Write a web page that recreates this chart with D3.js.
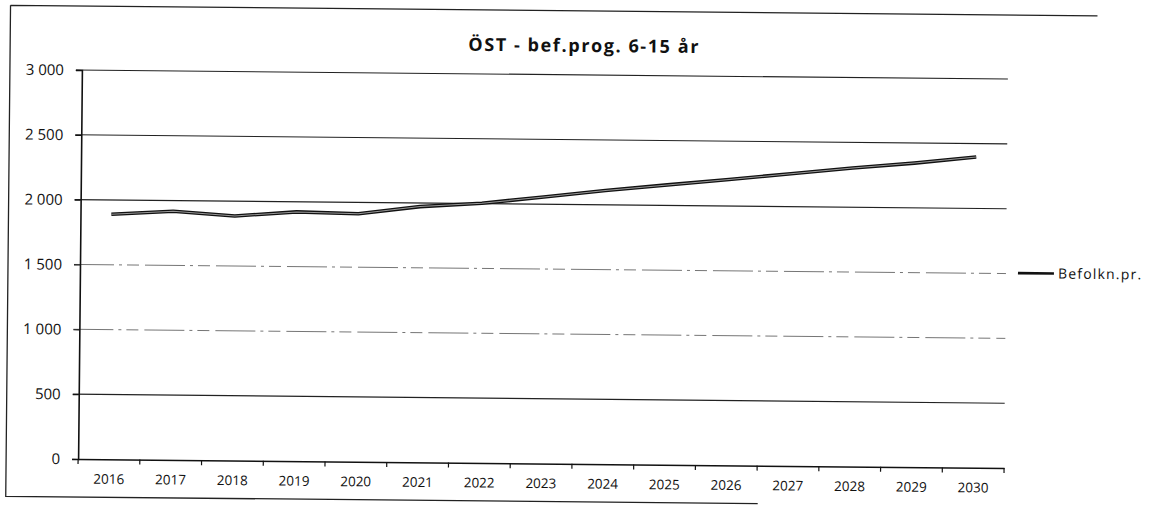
<!DOCTYPE html>
<html>
<head>
<meta charset="utf-8">
<script src="https://cdn.jsdelivr.net/npm/d3@7"></script>
<style>
  body { margin: 0; background: #fff; }
  svg { display: block; }
  text { font-family: "Open Sans", "DejaVu Sans", sans-serif; fill: #111; }
</style>
</head>
<body>
<div id="chart"></div>
<script>
// DATA
var years = ["2016", "2017", "2018", "2019", "2020", "2021", "2022", "2023",
             "2024", "2025", "2026", "2027", "2028", "2029", "2030"];
var befolkn = [1890, 1918, 1886, 1922, 1912, 1972, 2003, 2055,
               2110, 2158, 2205, 2253, 2302, 2345, 2396];
var yTicks = [0, 500, 1000, 1500, 2000, 2500, 3000];
var faintTicks = [1000, 1500];
var title = "ÖST - bef.prog. 6-15 år";
var seriesName = "Befolkn.pr.";

var W = 1167, H = 508;
var plot = {left: 80, right: 1006, top: 70, bottom: 459};

var svg = d3.select("#chart").append("svg")
  .attr("width", W)
  .attr("height", H);

// THE SCAN IS A LITTLE TILTED, SO THE WHOLE CHART IS ROTATED A BIT
var g = svg.append("g")
  .attr("transform", "rotate(0.56, 80, 265)");

// OUTER FRAME (ONLY PARTLY VISIBLE ON THE SCAN)
g.append("path")
  .attr("d", "M8,6 L1095,6 M8,6 L8,497 L760,497")
  .attr("fill", "none")
  .attr("stroke", "#222")
  .attr("stroke-width", 1.3);

var xScale = d3.scaleBand()
  .domain(years)
  .range([plot.left, plot.right]);

var yScale = d3.scaleLinear()
  .domain([0, 3000])
  .range([plot.bottom, plot.top]);

// GRIDLINES
g.append("g")
  .selectAll("line")
  .data(yTicks.filter(function(d){ return d > 0; }))
  .enter().append("line")
    .attr("x1", plot.left - 6)
    .attr("x2", plot.right)
    .attr("y1", function(d){ return yScale(d); })
    .attr("y2", function(d){ return yScale(d); })
    .attr("stroke", function(d){ return faintTicks.indexOf(d) >= 0 ? "#666" : "#222"; })
    .attr("stroke-width", function(d){ return faintTicks.indexOf(d) >= 0 ? 0.9 : 1.1; })
    .attr("stroke-dasharray", function(d){ return faintTicks.indexOf(d) >= 0 ? "40,5,3,5,12,6" : null; });

// Y AXIS
var yAxis = d3.axisLeft(yScale)
  .tickValues(yTicks)
  .tickSize(6)
  .tickPadding(12)
  .tickFormat(function(d){ return d3.format(",")(d).replace(",", " "); });

var yGuide = g.append("g")
  .attr("transform", "translate(" + plot.left + ",0)")
  .call(yAxis);
yGuide.select(".domain").attr("stroke", "#111").attr("stroke-width", 1.6);
yGuide.selectAll(".tick line").attr("stroke", "#111").attr("stroke-width", 1.2);
yGuide.selectAll("text")
  .style("font-size", "15px")
  .style("font-family", "'Open Sans', sans-serif")
  .attr("fill", "#111");

// X AXIS - LABELS FROM THE AXIS, TICKS ON CATEGORY BOUNDARIES LIKE EXCEL
var xAxis = d3.axisBottom(xScale)
  .tickSize(0)
  .tickPadding(15);

var xGuide = g.append("g")
  .attr("transform", "translate(0," + plot.bottom + ")")
  .call(xAxis);
xGuide.select(".domain").attr("stroke", "#111").attr("stroke-width", 1.6);
xGuide.selectAll("text")
  .style("font-size", "13.5px")
  .style("font-family", "'Open Sans', sans-serif")
  .attr("fill", "#111");

var bounds = years.map(function(d){ return xScale(d); }).concat([plot.right]);
g.append("g")
  .selectAll("line")
  .data(bounds)
  .enter().append("line")
    .attr("x1", function(d){ return d; })
    .attr("x2", function(d){ return d; })
    .attr("y1", plot.bottom)
    .attr("y2", plot.bottom + 5)
    .attr("stroke", "#111")
    .attr("stroke-width", 1.2);

// TITLE
g.append("text")
  .attr("x", 582)
  .attr("y", 47)
  .attr("text-anchor", "middle")
  .style("font-size", "18px")
  .style("font-weight", "bold")
  .style("letter-spacing", "1.6px")
  .text(title);

// THE LINE (DRAWN DOUBLE, LIKE THE SCANNED THICK STROKE)
var line = d3.line()
  .x(function(d, i){ return xScale(years[i]) + xScale.bandwidth() / 2; })
  .y(function(d){ return yScale(d); });

g.append("path")
  .datum(befolkn)
  .attr("d", line)
  .attr("fill", "none")
  .attr("stroke", "#111")
  .attr("stroke-width", 3.6)
  .attr("stroke-linejoin", "round");

g.append("path")
  .datum(befolkn)
  .attr("d", line)
  .attr("fill", "none")
  .attr("stroke", "#999")
  .attr("stroke-width", 1);

// LEGEND
var legend = g.append("g")
  .attr("transform", "translate(1018," + 264 + ")");
legend.append("line")
  .attr("x1", 0)
  .attr("x2", 36)
  .attr("y1", 0)
  .attr("y2", 0)
  .attr("stroke", "#111")
  .attr("stroke-width", 2.6);
legend.append("text")
  .attr("x", 40)
  .attr("y", 5)
  .style("font-size", "14px")
  .style("letter-spacing", "1.2px")
  .text(seriesName);
</script>
</body>
</html>
